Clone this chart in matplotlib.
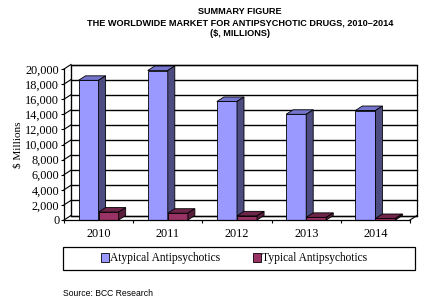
"""Summary figure - worldwide antipsychotic drugs market, 2010-2014 (pseudo 3-D bars)"""

import matplotlib
matplotlib.use("Agg")
import matplotlib.pyplot as plt
from matplotlib.patches import Polygon, Rectangle
from matplotlib.ticker import FuncFormatter

years = ["2010", "2011", "2012", "2013", "2014"]
atypical = [18500, 19800, 15700, 14000, 14500]
typical = [1050, 900, 550, 350, 200]
series_names = ["Atypical Antipsychotics", "Typical Antipsychotics"]
yticks = list(range(0, 20001, 2000))

W, H = 428, 302
fig = plt.figure(figsize=(W / 100, H / 100), dpi=100)
fig.patch.set_facecolor("white")

# front plane of the plot: x 64..410 px, y 220 (0) .. 69 (20,000)
ax = fig.add_axes([64 / W, 1 - 220 / H, (410 - 64) / W, (220 - 69) / H])
n = len(years)
ax.set_xlim(0, n)
ax.set_ylim(0, 20000)
ax.set_facecolor("none")

# depth offset (px -> data units)
DX = 7 * n / 346
DY = 4.5 * 20000 / 151

serif = ["Liberation Serif", "DejaVu Serif"]
sans_narrow = ["Liberation Sans Narrow", "Liberation Sans", "DejaVu Sans"]

# back wall + gridlines + side wall
ax.add_patch(Rectangle((DX, DY), n, 20000, facecolor="white", edgecolor="black",
                       lw=0.9, clip_on=False, zorder=1))
for v in yticks:
    ax.plot([DX, n + DX], [v + DY, v + DY], color="black", lw=1.0, clip_on=False, zorder=1.5)
    ax.plot([0, DX], [v, v + DY], color="black", lw=0.8, clip_on=False, zorder=1.5)
ax.plot([DX, DX], [DY, 20000 + DY], color="black", lw=0.8, clip_on=False, zorder=1.5)
# floor right edge
ax.plot([n, n + DX], [0, DY], color="black", lw=0.8, clip_on=False, zorder=1.5)

# bars
bw = 0.29
colors = {
    "Atypical Antipsychotics": ("#9999FF", "#7575CE", "#4C4C80"),
    "Typical Antipsychotics": ("#993366", "#6E2549", "#5A1E3C"),
}


def bar3d(x0, val, front, top, side):
    ax.bar(x0, val, width=bw, align="edge", color=front, edgecolor="black",
           lw=0.6, zorder=3)
    ax.add_patch(Polygon([(x0, val), (x0 + DX, val + DY), (x0 + bw + DX, val + DY),
                          (x0 + bw, val)], closed=True, facecolor=top,
                         edgecolor="black", lw=0.6, zorder=3, clip_on=False))
    ax.add_patch(Polygon([(x0 + bw, 0), (x0 + bw + DX, DY), (x0 + bw + DX, val + DY),
                          (x0 + bw, val)], closed=True, facecolor=side,
                         edgecolor="black", lw=0.6, zorder=3, clip_on=False))


for i in range(n):
    c = i + 0.5
    bar3d(c - bw, atypical[i], *colors[series_names[0]])
    bar3d(c, typical[i], *colors[series_names[1]])

# axes styling
for s in ["top", "right"]:
    ax.spines[s].set_visible(False)
for s in ["left", "bottom"]:
    ax.spines[s].set_linewidth(0.9)
    ax.spines[s].set_zorder(4)

ax.set_yticks(yticks)
ax.yaxis.set_major_formatter(FuncFormatter(lambda v, p: f"{int(v):,}"))
ax.tick_params(axis="y", length=2.5, width=0.8, pad=1, labelsize=8.8)
ax.set_xticks([i + 0.5 for i in range(n)])
ax.set_xticklabels(years)
ax.set_xticks(range(n + 1), minor=True)
ax.tick_params(axis="x", which="major", length=0, pad=6, labelsize=8.8)
ax.tick_params(axis="x", which="minor", length=2.5, width=0.8)
for lab in ax.get_xticklabels() + ax.get_yticklabels():
    lab.set_family(serif)

fig.text(18 / W, 1 - 145 / H, "$ Millions", rotation=90, ha="center", va="center",
         family=serif, fontsize=8)

# title
titles = ["SUMMARY FIGURE", "THE WORLDWIDE MARKET FOR ANTIPSYCHOTIC DRUGS, 2010\u20132014",
          "($, MILLIONS)"]
for t, yy in zip(titles, [11, 23, 34]):
    fig.text(240 / W, 1 - yy / H, t, ha="center", va="center", family=sans_narrow,
             fontweight="bold", fontsize=6.6)

# legend box
fig.patches.append(Rectangle((63 / W, 1 - 270 / H), (415 - 63) / W, 23 / H,
                             transform=fig.transFigure, facecolor="white",
                             edgecolor="black", lw=0.9))
handles = [Rectangle((0, 0), 1, 1, facecolor=colors[s][0], edgecolor="black", lw=0.6)
           for s in series_names]
leg = fig.legend(handles, series_names, loc="center", bbox_to_anchor=(234 / W, 1 - 258.5 / H),
                 ncol=2, frameon=False, handlelength=0.7, handleheight=0.7,
                 handletextpad=0.12, columnspacing=2.8,
                 prop={"family": serif, "size": 8.3})

fig.text(63 / W, 1 - 294 / H, "Source: BCC Research", ha="left", va="center",
         family=sans_narrow, fontsize=6.2)

fig.savefig("out.png", dpi=100)
